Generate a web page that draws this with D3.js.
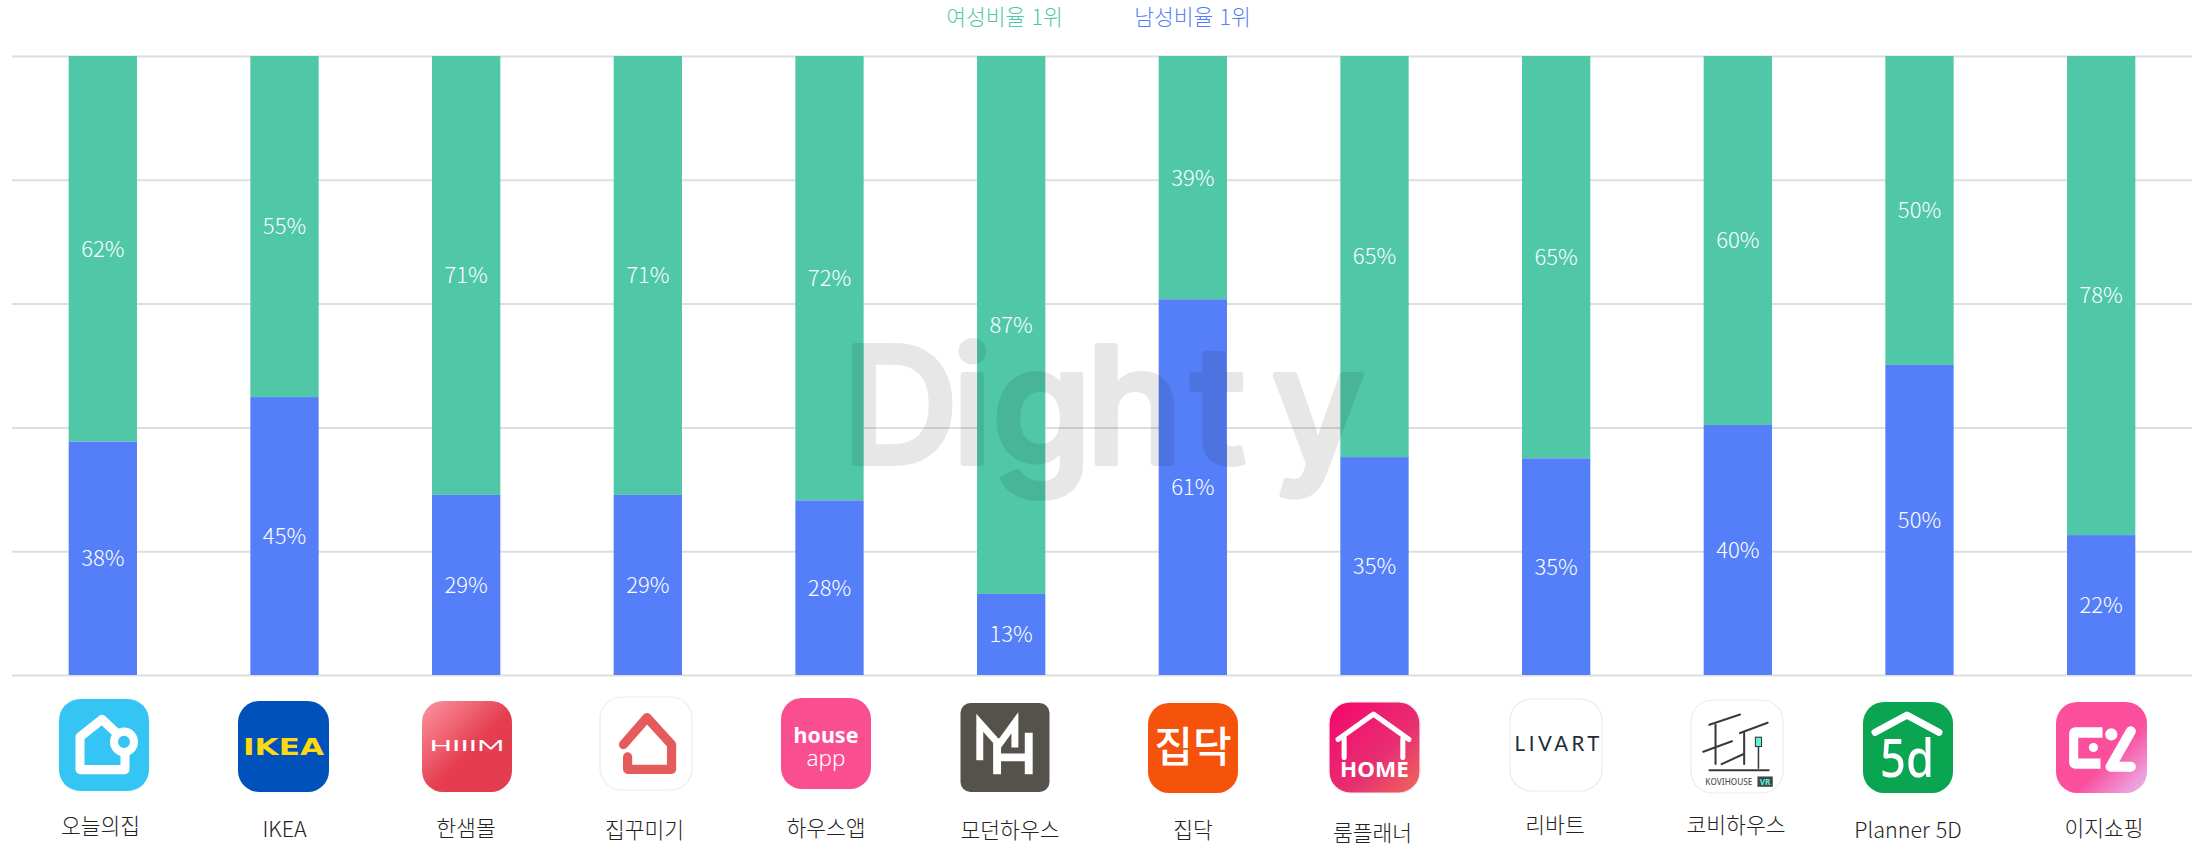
<!DOCTYPE html>
<html lang="ko"><head><meta charset="utf-8">
<script src="https://cdn.jsdelivr.net/npm/d3@7"></script>
<style>
html,body{margin:0;padding:0;background:#fff;overflow:hidden}
svg{display:block}
text{font-family:"Noto Sans CJK KR","Noto Sans",sans-serif;font-weight:300}
</style></head><body>
<svg id="c" width="2193" height="845"></svg>
<script>
const apps=["오늘의집","IKEA","한샘몰","집꾸미기","하우스앱","모던하우스","집닥","룸플래너","리바트","코비하우스","Planner 5D","이지쇼핑"];
const maleShare=[37.7,44.9,29.1,29.1,28.2,13.1,60.7,35.2,35,40.4,50.1,22.6];
const maleLabels=[38,45,29,29,28,13,61,35,35,40,50,22];
const femaleLabels=[62,55,71,71,72,87,39,65,65,60,50,78];
const gridTicks=[0,20,40,60,80,100];
const legendItems=["여성비율 1위","남성비율 1위"];
const colors={female:"#50C8A8",male:"#557FF8",grid:"#dedede",label:"#222"};
const labelOffsets=[826.7,829,828,830,828,830,830.7,833,825.7,825.7,830,828];
const labelX=[100.5,284.5,466,644.6,826,1010,1193,1372.5,1555,1736,1908,2104];
const iconBoxes=[[59,699,90,92],[238,701,91,91],[422,701,90,91],[600,697,92,93],[781,698,90,91],[960.5,703,89,89],[1148,703,90,90],[1329,702,91,91],[1510,699,92,92],[1691,700,92,93],[1863,702,90,91],[2056,702,91,91]];

const svg=d3.select("#c");
const x=d3.scaleBand().domain(apps).range([12,2192]).paddingInner(.624).paddingOuter(.312);
const y=d3.scaleLinear().domain([0,100]).range([675,56]);

// grid
const axis=d3.axisRight(y).tickValues(gridTicks).tickSize(2180).tickFormat("");
const ga=svg.append("g").attr("transform","translate(12,0)").call(axis);
ga.select(".domain").remove();
ga.selectAll("line").attr("stroke",colors.grid).attr("stroke-width",2);

// legend
svg.selectAll(".lg").data(legendItems).join("text").attr("class","lg")
 .attr("x",(d,i)=>[1004.5,1192.5][i]).attr("y",17).attr("dy",".36em")
 .attr("text-anchor","middle").attr("font-size",21.5)
 .attr("fill",(d,i)=>i?colors.male:colors.female).text(d=>d);

// bars
const rows=apps.map((a,i)=>({a,m:maleShare[i],ml:maleLabels[i],fl:femaleLabels[i]}));
const bars=svg.append("g").selectAll("g").data(rows).join("g");
bars.append("rect").attr("x",d=>x(d.a)).attr("width",x.bandwidth()).attr("y",y(100)).attr("height",d=>y(d.m)-y(100)).attr("fill",colors.female);
bars.append("rect").attr("x",d=>x(d.a)).attr("width",x.bandwidth()).attr("y",d=>y(d.m)).attr("height",d=>y(0)-y(d.m)).attr("fill",colors.male);
const tx=d=>x(d.a)+x.bandwidth()/2;
const valueText=s=>s.attr("x",tx).attr("text-anchor","middle").attr("dy",".36em").attr("font-size",22).attr("fill","#fff");
bars.append("text").call(valueText).attr("y",d=>y((100+d.m)/2)).text(d=>d.fl+"%");
bars.append("text").call(valueText).attr("y",d=>y(d.m/2)).text(d=>d.ml+"%");

// category labels
svg.selectAll(".cat").data(apps).join("text").attr("class","cat")
 .attr("x",(d,i)=>labelX[i]).attr("y",(d,i)=>labelOffsets[i]).attr("dy",".36em")
 .attr("text-anchor","middle").attr("font-size",21.5).attr("fill",colors.label).text(d=>d);

// icons
const defs=svg.append("defs");
function grad(id,x1,y1,x2,y2,stops){const g=defs.append("linearGradient").attr("id",id).attr("x1",x1).attr("y1",y1).attr("x2",x2).attr("y2",y2);
 stops.forEach(s=>g.append("stop").attr("offset",s[0]).attr("stop-color",s[1]));}
grad("g3",0,0,1,1,[[0,"#FD95A0"],[.55,"#E43D50"],[1,"#E43D50"]]);
grad("g8",0,0,1,1,[[0,"#F5056C"],[.6,"#E82F72"],[1,"#EE6A58"]]);
grad("g12",0,0,1,1,[[0,"#FB4F9E"],[.6,"#FB4F9E"],[1,"#E6BDF5"]]);
const P=(g,d,c,w)=>g.append("path").attr("d",d).attr("fill","none").attr("stroke",c).attr("stroke-width",w).attr("stroke-linejoin","round").attr("stroke-linecap","round");
const T=(g,t,xx,yy,size,fill,weight,fam,len)=>{const e=g.append("text").attr("x",xx).attr("y",yy).attr("text-anchor","middle").attr("dy",".36em").attr("font-size",size).attr("fill",fill).style("font-weight",weight).style("font-family",fam||null).text(t);
 if(len)e.attr("textLength",len).attr("lengthAdjust","spacingAndGlyphs");return e;};
const iconDraw=[
 g=>{P(g,"M66,52V69H21V37L43,20L56,32","#fff",9);g.append("circle").attr("cx",65).attr("cy",42).attr("r",10).attr("fill","#35C5F4").attr("stroke","#fff").attr("stroke-width",8);},
 g=>{T(g,"IKEA",45,45,22,"#FFD90F",900,"'DejaVu Sans'",80);},
 g=>{T(g,"HIIIM",45,44,15,"#fff",400,"Lato",75);},
 g=>{P(g,"M23,46L46,20L70,46V70H27V58","#E55A5A",9);},
 g=>{T(g,"house",45,37,21,"#fff",700,"'Noto Sans'",65);T(g,"app",45,60,21,"#fff",300,"'Noto Sans'",39);},
 g=>{P(g,"M19.5,58V20L39,42L55,20V45","#fff",7).attr("stroke-linecap","butt").attr("stroke-linejoin","miter");P(g,"M37,72V36M69,72V30M37,55H69","#fff",8).attr("stroke-linecap","butt");},
 g=>{T(g,"집닥",45,44,42,"#fff",500);},
 g=>{P(g,"M9,37L44,12L79,37M15,36V55M73,36V55","#fff",5);T(g,"HOME",45,67,21,"#fff",700,"'Noto Sans'",68);},
 g=>{T(g,"LIVART",46,44,20,"#232A3A",400,"Lato",83).attr("lengthAdjust","spacing");},
 g=>{P(g,"M18,24L48,14M24,24V62M48,32L75,22M52,32V62M12,50L40,40M30,62L52,52","#3a3a3a",2);
     g.append("rect").attr("x",37).attr("y",50).attr("width",17).attr("height",18).attr("fill","#62EFD8").lower();P(g,"M66,44V66","#3a3a3a",1.5);
     g.append("rect").attr("x",63).attr("y",36).attr("width",6).attr("height",9).attr("fill","#62EFD8").attr("stroke","#333");P(g,"M18,68H76","#3a3a3a",2);
     T(g,"KOVIHOUSE",37,79,8,"#555",500,"'Noto Sans'");g.append("rect").attr("x",65).attr("y",74).attr("width",15).attr("height",10).attr("fill","#3c4a4a");T(g,"VR",72.5,79,8,"#62EFD8",700,"'Noto Sans'");},
 g=>{P(g,"M12,30L44,13L76,30","#fff",7);T(g,"5d",44,55,52,"#fff",500,"'Noto Sans'",54);},
 g=>{g.append("path").attr("d","M13,31a6,6 0 0 1 6,-6H46V35.3H22V56H44V66H19a6,6 0 0 1 -6,-6Z").attr("fill","#fff");
     g.append("circle").attr("cx",37).attr("cy",45).attr("r",4.5).attr("fill","#fff");
     g.append("circle").attr("cx",54.7).attr("cy",32).attr("r",6).attr("fill","#fff");
     P(g,"M74,29L54,64H74","#fff",10);}
];
const iconFill=["#35C5F4","#0051BA","url(#g3)","#fff","#F94E8F","#54524A","#F5520C","url(#g8)","#fff","#fff","#09A550","url(#g12)"];
const iconStroke=[null,null,null,"#ececec",null,null,null,"#eee","#ececec","#ececec",null,null];
svg.selectAll(".icon").data(iconBoxes).join("g").attr("class","icon")
 .attr("transform",d=>`translate(${d[0]},${d[1]}) scale(${d[2]/90},${d[3]/90})`)
 .each(function(d,i){const g=d3.select(this);
  const r=g.append("rect").attr("width",90).attr("height",90).attr("rx",i==5?10:21).attr("fill",iconFill[i]);
  if(iconStroke[i])r.attr("stroke",iconStroke[i]).attr("stroke-width",1.2);
  iconDraw[i](g);});

// watermark
svg.append("text").text("Dighty")
 .attr("x","842 952 992 1086 1191 1272").attr("y",463)
 .attr("font-size",161).style("font-family","Inter").style("font-weight",500)
 .attr("fill","#000").attr("stroke","#000").attr("stroke-width",6).attr("stroke-linejoin","round")
 .attr("opacity",.09);
</script></body></html>
